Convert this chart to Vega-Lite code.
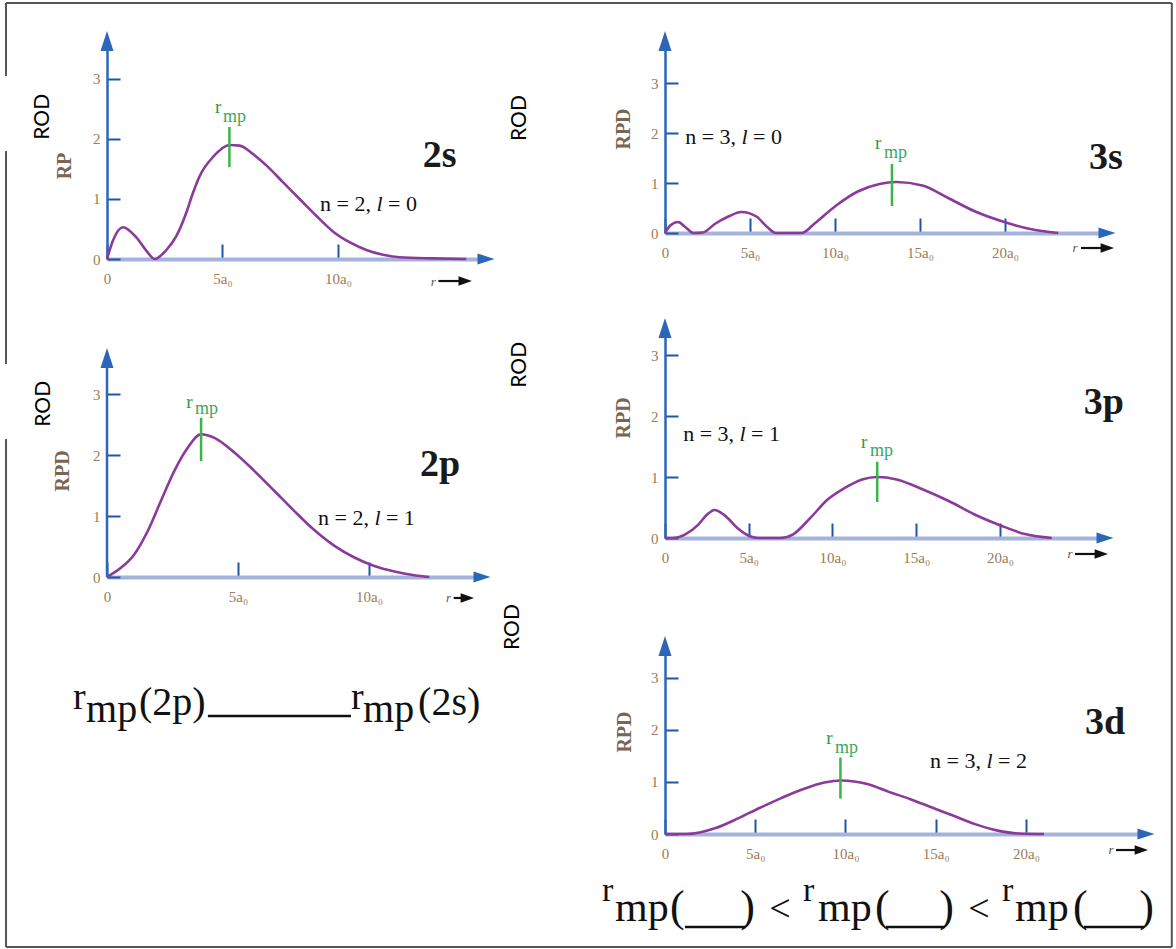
{
"$schema":"https://vega.github.io/schema/vega-lite/v6.json",
"background":"white",
"padding":{"left":5,"top":1,"right":0,"bottom":0},
"config":{
 "view":{"stroke":null},
 "axis":{"grid":false,"labelFont":"Liberation Serif","labelFontSize":15,"labelColor":"#9c7b55","tickColor":"#1d56a8","tickWidth":2,"labelFlush":false,"labelOverlap":false},
 "axisX":{"domainColor":"#a3b3dc","domainWidth":4,"tickSize":-15,"labelPadding":27,"labelAngle":0},
 "axisY":{"domainColor":"#2c66b8","domainWidth":2.5,"tickSize":-13,"labelPadding":20,"format":"d"}
},
"columns":2,
"spacing":{"row":69,"column":179},
"align":"each",
"bounds":"flush",
"concat":[
{"width":379,"height":218,
 "data":{"values":[{"r":0,"rpd":0},{"r":0.25,"rpd":0.3},{"r":0.69,"rpd":0.53},{"r":1.27,"rpd":0.36},{"r":1.7,"rpd":0.14},{"r":2.06,"rpd":0},{"r":2.57,"rpd":0.15},{"r":3.0,"rpd":0.38},{"r":3.44,"rpd":0.78},{"r":3.72,"rpd":1.1},{"r":4.01,"rpd":1.38},{"r":4.59,"rpd":1.7},{"r":5.31,"rpd":1.9},{"r":5.74,"rpd":1.89},{"r":6.32,"rpd":1.75},{"r":6.9,"rpd":1.56},{"r":7.62,"rpd":1.28},{"r":8.34,"rpd":1.0},{"r":9.06,"rpd":0.72},{"r":9.78,"rpd":0.46},{"r":10.5,"rpd":0.28},{"r":11.23,"rpd":0.15},{"r":11.95,"rpd":0.07},{"r":12.67,"rpd":0.03},{"r":14.1,"rpd":0.01},{"r":15.56,"rpd":0}]},
 "layer":[
  {"mark":{"type":"line","color":"#8b3a9b","strokeWidth":2.6,"interpolate":"monotone"},
   "encoding":{"x":{"field":"r","type":"quantitative","scale":{"domain":[0,16.41],"nice":false,"zero":false},"axis":{"values":[0,5,10],"labelExpr":"datum.value == 0 ? '0' : datum.value + 'a₀'","title":null}},
    "y":{"field":"rpd","type":"quantitative","scale":{"domain":[0,3.633],"nice":false},"axis":{"values":[0,1,2,3],"title":null,"format":"d"}}}},
  {"data":{"values":[{}]},"mark":{"type":"rule","color":"#3ab54a","strokeWidth":2.5},"encoding":{"x":{"datum":5.3},"y":{"datum":1.53},"y2":{"datum":2.2}}},
  {"data":{"values":[{}]},"mark":{"type":"text","text":"r","font":"Liberation Serif","fontSize":19,"color":"#2f9a3c","align":"left","baseline":"alphabetic"},"encoding":{"x":{"datum":4.68},"y":{"datum":2.43}}},
  {"data":{"values":[{}]},"mark":{"type":"text","text":"mp","font":"Liberation Serif","fontSize":18,"color":"#3aa860","align":"left","baseline":"alphabetic"},"encoding":{"x":{"datum":5.02},"y":{"datum":2.28}}},
  {"data":{"values":[{}]},"mark":{"type":"text","text":"2s","font":"Liberation Serif","fontSize":38,"fontWeight":"bold","color":"#1a1a1a","align":"center","baseline":"alphabetic"},"encoding":{"x":{"datum":14.4},"y":{"datum":1.53}}},
  {"data":{"values":[{}]},"mark":{"type":"text","text":"n = 2,","font":"Liberation Serif","fontSize":22,"color":"#111","align":"right","baseline":"alphabetic","dx":-8.5},"encoding":{"x":{"datum":11.8},"y":{"datum":0.8}}},
  {"data":{"values":[{}]},"mark":{"type":"text","text":"l","font":"Liberation Serif","fontSize":22,"fontStyle":"italic","color":"#111","align":"center","baseline":"alphabetic"},"encoding":{"x":{"datum":11.8},"y":{"datum":0.8}}},
  {"data":{"values":[{}]},"mark":{"type":"text","text":"= 0","font":"Liberation Serif","fontSize":22,"color":"#111","align":"left","baseline":"alphabetic","dx":8.5},"encoding":{"x":{"datum":11.8},"y":{"datum":0.8}}},
  {"data":{"values":[{}]},"mark":{"type":"text","text":"ROD","font":"Lato","fontSize":21,"color":"#000","angle":270,"align":"center","baseline":"middle"},"encoding":{"x":{"datum":-2.77},"y":{"datum":2.37}}},
  {"data":{"values":[{}]},"mark":{"type":"text","text":"RP","font":"Liberation Serif","fontSize":20,"fontWeight":"bold","color":"#7a6650","angle":270,"align":"center","baseline":"middle"},"encoding":{"x":{"datum":-1.82},"y":{"datum":1.55}}},
  {"data":{"values":[{}]},"mark":{"type":"text","text":"r","font":"Liberation Serif","fontSize":13,"fontStyle":"italic","color":"#555","align":"center","baseline":"alphabetic"},"encoding":{"x":{"datum":14.13},"y":{"datum":-0.45}}},
  {"data":{"values":[{}]},"mark":{"type":"rule","color":"#111","strokeWidth":2.2},"encoding":{"x":{"datum":14.35},"x2":{"datum":15.51},"y":{"datum":-0.367}}},
  {"data":{"values":[{}]},"mark":{"type":"point","shape":"M-1,-0.7L1,0L-1,0.7Z","filled":true,"color":"#111","size":180,"opacity":1},"encoding":{"x":{"datum":15.51},"y":{"datum":-0.367}}},
  {"data":{"values":[{}]},"mark":{"type":"point","shape":"M-0.65,1L0,-1L0.65,1Z","filled":true,"color":"#2c66b8","size":400,"opacity":1},"encoding":{"x":{"datum":0},"y":{"datum":3.633}}},
  {"data":{"values":[{}]},"mark":{"type":"point","shape":"M-1,-0.65L1,0L-1,0.65Z","filled":true,"color":"#2c66b8","size":289,"opacity":1},"encoding":{"x":{"datum":16.41},"y":{"datum":0}}},
  {"data":{"values":[{}]},"mark":{"type":"rule","color":"#555","strokeWidth":2},"encoding":{"x":{"datum":-4.372},"x2":{"datum":46.104},"y":{"datum":4.267}}},
  {"data":{"values":[{}]},"mark":{"type":"rule","color":"#555","strokeWidth":2},"encoding":{"x":{"datum":-4.372},"x2":{"datum":46.104},"y":{"datum":-11.467}}},
  {"data":{"values":[{}]},"mark":{"type":"rule","color":"#555","strokeWidth":2},"encoding":{"x":{"datum":46.104},"y":{"datum":4.267},"y2":{"datum":-11.467}}},
  {"data":{"values":[{}]},"mark":{"type":"rule","color":"#555","strokeWidth":2},"encoding":{"x":{"datum":-4.372},"y":{"datum":4.267},"y2":{"datum":3.05}}},
  {"data":{"values":[{}]},"mark":{"type":"rule","color":"#555","strokeWidth":2},"encoding":{"x":{"datum":-4.372},"y":{"datum":1.8},"y2":{"datum":-1.75}}},
  {"data":{"values":[{}]},"mark":{"type":"rule","color":"#555","strokeWidth":2},"encoding":{"x":{"datum":-4.372},"y":{"datum":-3.0},"y2":{"datum":-11.467}}}
 ]},
{"width":442,"height":192,
 "data":{"values":[{"r":0,"rpd":0},{"r":0.31,"rpd":0.15},{"r":0.77,"rpd":0.22},{"r":1.19,"rpd":0.12},{"r":1.7,"rpd":0},{"r":2.21,"rpd":0.01},{"r":2.97,"rpd":0.19},{"r":3.73,"rpd":0.33},{"r":4.5,"rpd":0.42},{"r":5.38,"rpd":0.33},{"r":6.01,"rpd":0.12},{"r":6.52,"rpd":0},{"r":8.04,"rpd":0},{"r":8.8,"rpd":0.19},{"r":10.07,"rpd":0.55},{"r":11.34,"rpd":0.83},{"r":12.61,"rpd":0.98},{"r":13.6,"rpd":1.02},{"r":15.14,"rpd":0.95},{"r":16.66,"rpd":0.7},{"r":18.18,"rpd":0.44},{"r":19.96,"rpd":0.22},{"r":21.48,"rpd":0.08},{"r":23.13,"rpd":0}]},
 "layer":[
  {"mark":{"type":"line","color":"#8b3a9b","strokeWidth":2.6,"interpolate":"monotone"},
   "encoding":{"x":{"field":"r","type":"quantitative","scale":{"domain":[0,26.0],"nice":false,"zero":false},"axis":{"values":[0,5,10,15,20],"labelExpr":"datum.value == 0 ? '0' : datum.value + 'a₀'","title":null}},
    "y":{"field":"rpd","type":"quantitative","scale":{"domain":[0,3.84],"nice":false},"axis":{"values":[0,1,2,3],"title":null,"format":"d"}}}},
  {"data":{"values":[{}]},"mark":{"type":"rule","color":"#3ab54a","strokeWidth":2.5},"encoding":{"x":{"datum":13.35},"y":{"datum":0.54},"y2":{"datum":1.38}}},
  {"data":{"values":[{}]},"mark":{"type":"text","text":"r","font":"Liberation Serif","fontSize":19,"color":"#2f9a3c","align":"left","baseline":"alphabetic"},"encoding":{"x":{"datum":12.35},"y":{"datum":1.68}}},
  {"data":{"values":[{}]},"mark":{"type":"text","text":"mp","font":"Liberation Serif","fontSize":18,"color":"#3aa860","align":"left","baseline":"alphabetic"},"encoding":{"x":{"datum":12.88},"y":{"datum":1.5}}},
  {"data":{"values":[{}]},"mark":{"type":"text","text":"3s","font":"Liberation Serif","fontSize":38,"fontWeight":"bold","color":"#1a1a1a","align":"center","baseline":"alphabetic"},"encoding":{"x":{"datum":25.94},"y":{"datum":1.28}}},
  {"data":{"values":[{}]},"mark":{"type":"text","text":"n = 3,","font":"Liberation Serif","fontSize":22,"color":"#111","align":"right","baseline":"alphabetic","dx":-8.5},"encoding":{"x":{"datum":4.68},"y":{"datum":1.78}}},
  {"data":{"values":[{}]},"mark":{"type":"text","text":"l","font":"Liberation Serif","fontSize":22,"fontStyle":"italic","color":"#111","align":"center","baseline":"alphabetic"},"encoding":{"x":{"datum":4.68},"y":{"datum":1.78}}},
  {"data":{"values":[{}]},"mark":{"type":"text","text":"= 0","font":"Liberation Serif","fontSize":22,"color":"#111","align":"left","baseline":"alphabetic","dx":8.5},"encoding":{"x":{"datum":4.68},"y":{"datum":1.78}}},
  {"data":{"values":[{}]},"mark":{"type":"text","text":"ROD","font":"Lato","fontSize":21,"color":"#000","angle":270,"align":"center","baseline":"middle"},"encoding":{"x":{"datum":-8.53},"y":{"datum":2.3}}},
  {"data":{"values":[{}]},"mark":{"type":"text","text":"RPD","font":"Liberation Serif","fontSize":20,"fontWeight":"bold","color":"#7a6650","angle":270,"align":"center","baseline":"middle"},"encoding":{"x":{"datum":-2.41},"y":{"datum":2.08}}},
  {"data":{"values":[{}]},"mark":{"type":"text","text":"r","font":"Liberation Serif","fontSize":13,"fontStyle":"italic","color":"#555","align":"center","baseline":"alphabetic"},"encoding":{"x":{"datum":24.12},"y":{"datum":-0.38}}},
  {"data":{"values":[{}]},"mark":{"type":"rule","color":"#111","strokeWidth":2.2},"encoding":{"x":{"datum":24.47},"x2":{"datum":26.02},"y":{"datum":-0.3}}},
  {"data":{"values":[{}]},"mark":{"type":"point","shape":"M-1,-0.7L1,0L-1,0.7Z","filled":true,"color":"#111","size":180,"opacity":1},"encoding":{"x":{"datum":26.02},"y":{"datum":-0.3}}},
  {"data":{"values":[{}]},"mark":{"type":"point","shape":"M-0.65,1L0,-1L0.65,1Z","filled":true,"color":"#2c66b8","size":400,"opacity":1},"encoding":{"x":{"datum":0},"y":{"datum":3.84}}},
  {"data":{"values":[{}]},"mark":{"type":"point","shape":"M-1,-0.65L1,0L-1,0.65Z","filled":true,"color":"#2c66b8","size":289,"opacity":1},"encoding":{"x":{"datum":26.0},"y":{"datum":0}}}
 ]},
{"width":375,"height":249,
 "data":{"values":[{"r":0,"rpd":0},{"r":0.53,"rpd":0.15},{"r":1.04,"rpd":0.37},{"r":1.55,"rpd":0.75},{"r":2.06,"rpd":1.25},{"r":2.57,"rpd":1.74},{"r":3.08,"rpd":2.12},{"r":3.59,"rpd":2.34},{"r":4.1,"rpd":2.28},{"r":4.86,"rpd":2.04},{"r":5.62,"rpd":1.74},{"r":6.39,"rpd":1.41},{"r":7.15,"rpd":1.08},{"r":7.91,"rpd":0.77},{"r":8.68,"rpd":0.51},{"r":9.44,"rpd":0.32},{"r":10.2,"rpd":0.18},{"r":10.97,"rpd":0.09},{"r":11.73,"rpd":0.03},{"r":12.3,"rpd":0}]},
 "layer":[
  {"mark":{"type":"line","color":"#8b3a9b","strokeWidth":2.6,"interpolate":"monotone"},
   "encoding":{"x":{"field":"r","type":"quantitative","scale":{"domain":[0,14.31],"nice":false,"zero":false},"axis":{"values":[0,5,10],"labelExpr":"datum.value == 0 ? '0' : datum.value + 'a₀'","title":null}},
    "y":{"field":"rpd","type":"quantitative","scale":{"domain":[0,4.082],"nice":false},"axis":{"values":[0,1,2,3],"title":null,"format":"d","domain":false}}}},
  {"data":{"values":[{}]},"mark":{"type":"rule","color":"#2c66b8","strokeWidth":2.5},"encoding":{"x":{"datum":0},"y":{"datum":0},"y2":{"datum":3.59}}},
  {"data":{"values":[{}]},"mark":{"type":"rule","color":"#3ab54a","strokeWidth":2.5},"encoding":{"x":{"datum":3.59},"y":{"datum":1.9},"y2":{"datum":2.61}}},
  {"data":{"values":[{}]},"mark":{"type":"text","text":"r","font":"Liberation Serif","fontSize":19,"color":"#2f9a3c","align":"left","baseline":"alphabetic"},"encoding":{"x":{"datum":3.02},"y":{"datum":2.77}}},
  {"data":{"values":[{}]},"mark":{"type":"text","text":"mp","font":"Liberation Serif","fontSize":18,"color":"#3aa860","align":"left","baseline":"alphabetic"},"encoding":{"x":{"datum":3.36},"y":{"datum":2.67}}},
  {"data":{"values":[{}]},"mark":{"type":"text","text":"2p","font":"Liberation Serif","fontSize":38,"fontWeight":"bold","color":"#1a1a1a","align":"center","baseline":"alphabetic"},"encoding":{"x":{"datum":12.71},"y":{"datum":1.66}}},
  {"data":{"values":[{}]},"mark":{"type":"text","text":"n = 2,","font":"Liberation Serif","fontSize":22,"color":"#111","align":"right","baseline":"alphabetic","dx":-8.5},"encoding":{"x":{"datum":10.32},"y":{"datum":0.85}}},
  {"data":{"values":[{}]},"mark":{"type":"text","text":"l","font":"Liberation Serif","fontSize":22,"fontStyle":"italic","color":"#111","align":"center","baseline":"alphabetic"},"encoding":{"x":{"datum":10.32},"y":{"datum":0.85}}},
  {"data":{"values":[{}]},"mark":{"type":"text","text":"= 1","font":"Liberation Serif","fontSize":22,"color":"#111","align":"left","baseline":"alphabetic","dx":8.5},"encoding":{"x":{"datum":10.32},"y":{"datum":0.85}}},
  {"data":{"values":[{}]},"mark":{"type":"text","text":"ROD","font":"Lato","fontSize":21,"color":"#000","angle":270,"align":"center","baseline":"middle"},"encoding":{"x":{"datum":-2.4},"y":{"datum":2.84}}},
  {"data":{"values":[{}]},"mark":{"type":"text","text":"RPD","font":"Liberation Serif","fontSize":20,"fontWeight":"bold","color":"#7a6650","angle":270,"align":"center","baseline":"middle"},"encoding":{"x":{"datum":-1.68},"y":{"datum":1.74}}},
  {"data":{"values":[{}]},"mark":{"type":"text","text":"r","font":"Liberation Serif","fontSize":13,"fontStyle":"italic","color":"#555","align":"center","baseline":"alphabetic"},"encoding":{"x":{"datum":13.03},"y":{"datum":-0.41}}},
  {"data":{"values":[{}]},"mark":{"type":"rule","color":"#111","strokeWidth":2.2},"encoding":{"x":{"datum":13.23},"x2":{"datum":13.75},"y":{"datum":-0.344}}},
  {"data":{"values":[{}]},"mark":{"type":"point","shape":"M-1,-0.7L1,0L-1,0.7Z","filled":true,"color":"#111","size":180,"opacity":1},"encoding":{"x":{"datum":13.75},"y":{"datum":-0.344}}},
  {"data":{"values":[{}]},"mark":{"type":"point","shape":"M-0.65,1L0,-1L0.65,1Z","filled":true,"color":"#2c66b8","size":400,"opacity":1},"encoding":{"x":{"datum":0},"y":{"datum":3.59}}},
  {"data":{"values":[{}]},"mark":{"type":"point","shape":"M-1,-0.65L1,0L-1,0.65Z","filled":true,"color":"#2c66b8","size":289,"opacity":1},"encoding":{"x":{"datum":14.31},"y":{"datum":0}}},
  {"data":{"values":[{}]},"mark":{"type":"text","text":"r","font":"Liberation Serif","fontSize":38,"color":"#111","align":"left","baseline":"alphabetic"},"encoding":{"x":{"datum":-1.3},"y":{"datum":-2.16}}},
  {"data":{"values":[{}]},"mark":{"type":"text","text":"mp","font":"Liberation Serif","fontSize":40,"color":"#111","align":"left","baseline":"alphabetic"},"encoding":{"x":{"datum":-0.8},"y":{"datum":-2.38}}},
  {"data":{"values":[{}]},"mark":{"type":"text","text":"(2p)","font":"Liberation Serif","fontSize":40,"color":"#111","align":"left","baseline":"alphabetic"},"encoding":{"x":{"datum":1.22},"y":{"datum":-2.26}}},
  {"data":{"values":[{}]},"mark":{"type":"rule","color":"#111","strokeWidth":2.5},"encoding":{"x":{"datum":3.85},"x2":{"datum":9.31},"y":{"datum":-2.28}}},
  {"data":{"values":[{}]},"mark":{"type":"text","text":"r","font":"Liberation Serif","fontSize":38,"color":"#111","align":"left","baseline":"alphabetic"},"encoding":{"x":{"datum":9.31},"y":{"datum":-2.16}}},
  {"data":{"values":[{}]},"mark":{"type":"text","text":"mp","font":"Liberation Serif","fontSize":40,"color":"#111","align":"left","baseline":"alphabetic"},"encoding":{"x":{"datum":9.77},"y":{"datum":-2.38}}},
  {"data":{"values":[{}]},"mark":{"type":"text","text":"(2s)","font":"Liberation Serif","fontSize":40,"color":"#111","align":"left","baseline":"alphabetic"},"encoding":{"x":{"datum":11.87},"y":{"datum":-2.26}}}
 ]},
{"width":440,"height":210,
 "data":{"values":[{"r":0,"rpd":0},{"r":0.44,"rpd":0},{"r":1.21,"rpd":0.06},{"r":1.99,"rpd":0.22},{"r":2.5,"rpd":0.38},{"r":2.95,"rpd":0.46},{"r":3.53,"rpd":0.38},{"r":4.3,"rpd":0.17},{"r":5.07,"rpd":0.03},{"r":5.59,"rpd":0},{"r":6.88,"rpd":0},{"r":7.65,"rpd":0.06},{"r":8.68,"rpd":0.33},{"r":9.71,"rpd":0.63},{"r":10.73,"rpd":0.82},{"r":11.77,"rpd":0.96},{"r":12.67,"rpd":1.0},{"r":13.83,"rpd":0.96},{"r":15.37,"rpd":0.8},{"r":16.91,"rpd":0.61},{"r":18.45,"rpd":0.39},{"r":20.0,"rpd":0.21},{"r":21.55,"rpd":0.06},{"r":23.09,"rpd":0}]},
 "layer":[
  {"mark":{"type":"line","color":"#8b3a9b","strokeWidth":2.6,"interpolate":"monotone"},
   "encoding":{"x":{"field":"r","type":"quantitative","scale":{"domain":[0,26.27],"nice":false,"zero":false},"axis":{"values":[0,5,10,15,20],"labelExpr":"datum.value == 0 ? '0' : datum.value + 'a₀'","title":null}},
    "y":{"field":"rpd","type":"quantitative","scale":{"domain":[0,3.443],"nice":false},"axis":{"values":[0,1,2,3],"title":null,"format":"d"}}}},
  {"data":{"values":[{}]},"mark":{"type":"rule","color":"#3ab54a","strokeWidth":2.5},"encoding":{"x":{"datum":12.67},"y":{"datum":0.59},"y2":{"datum":1.25}}},
  {"data":{"values":[{}]},"mark":{"type":"text","text":"r","font":"Liberation Serif","fontSize":19,"color":"#2f9a3c","align":"left","baseline":"alphabetic"},"encoding":{"x":{"datum":11.7},"y":{"datum":1.48}}},
  {"data":{"values":[{}]},"mark":{"type":"text","text":"mp","font":"Liberation Serif","fontSize":18,"color":"#3aa860","align":"left","baseline":"alphabetic"},"encoding":{"x":{"datum":12.24},"y":{"datum":1.34}}},
  {"data":{"values":[{}]},"mark":{"type":"text","text":"3p","font":"Liberation Serif","fontSize":38,"fontWeight":"bold","color":"#1a1a1a","align":"center","baseline":"alphabetic"},"encoding":{"x":{"datum":26.2},"y":{"datum":2.03}}},
  {"data":{"values":[{}]},"mark":{"type":"text","text":"n = 3,","font":"Liberation Serif","fontSize":22,"color":"#111","align":"right","baseline":"alphabetic","dx":-8.5},"encoding":{"x":{"datum":4.63},"y":{"datum":1.59}}},
  {"data":{"values":[{}]},"mark":{"type":"text","text":"l","font":"Liberation Serif","fontSize":22,"fontStyle":"italic","color":"#111","align":"center","baseline":"alphabetic"},"encoding":{"x":{"datum":4.63},"y":{"datum":1.59}}},
  {"data":{"values":[{}]},"mark":{"type":"text","text":"= 1","font":"Liberation Serif","fontSize":22,"color":"#111","align":"left","baseline":"alphabetic","dx":8.5},"encoding":{"x":{"datum":4.63},"y":{"datum":1.59}}},
  {"data":{"values":[{}]},"mark":{"type":"text","text":"ROD","font":"Lato","fontSize":21,"color":"#000","angle":270,"align":"center","baseline":"middle"},"encoding":{"x":{"datum":-8.66},"y":{"datum":2.84}}},
  {"data":{"values":[{}]},"mark":{"type":"text","text":"RPD","font":"Liberation Serif","fontSize":20,"fontWeight":"bold","color":"#7a6650","angle":270,"align":"center","baseline":"middle"},"encoding":{"x":{"datum":-2.45},"y":{"datum":1.97}}},
  {"data":{"values":[{}]},"mark":{"type":"text","text":"r","font":"Liberation Serif","fontSize":13,"fontStyle":"italic","color":"#555","align":"center","baseline":"alphabetic"},"encoding":{"x":{"datum":24.18},"y":{"datum":-0.33}}},
  {"data":{"values":[{}]},"mark":{"type":"rule","color":"#111","strokeWidth":2.2},"encoding":{"x":{"datum":24.48},"x2":{"datum":26.05},"y":{"datum":-0.262}}},
  {"data":{"values":[{}]},"mark":{"type":"point","shape":"M-1,-0.7L1,0L-1,0.7Z","filled":true,"color":"#111","size":180,"opacity":1},"encoding":{"x":{"datum":26.05},"y":{"datum":-0.262}}},
  {"data":{"values":[{}]},"mark":{"type":"point","shape":"M-0.65,1L0,-1L0.65,1Z","filled":true,"color":"#2c66b8","size":400,"opacity":1},"encoding":{"x":{"datum":0},"y":{"datum":3.443}}},
  {"data":{"values":[{}]},"mark":{"type":"point","shape":"M-1,-0.65L1,0L-1,0.65Z","filled":true,"color":"#2c66b8","size":289,"opacity":1},"encoding":{"x":{"datum":26.27},"y":{"datum":0}}}
 ]},
{"width":300,"height":10,"data":{"values":[]},"mark":"point"},
{"width":481,"height":188,
 "data":{"values":[{"r":0,"rpd":0},{"r":1.18,"rpd":0},{"r":2.85,"rpd":0.12},{"r":4.05,"rpd":0.3},{"r":5.24,"rpd":0.5},{"r":6.44,"rpd":0.69},{"r":7.63,"rpd":0.86},{"r":8.83,"rpd":0.99},{"r":9.78,"rpd":1.03},{"r":11.21,"rpd":0.96},{"r":12.4,"rpd":0.81},{"r":13.6,"rpd":0.67},{"r":14.79,"rpd":0.51},{"r":15.99,"rpd":0.35},{"r":17.18,"rpd":0.19},{"r":18.38,"rpd":0.07},{"r":19.57,"rpd":0.01},{"r":21.0,"rpd":0}]},
 "layer":[
  {"mark":{"type":"line","color":"#8b3a9b","strokeWidth":2.6,"interpolate":"monotone"},
   "encoding":{"x":{"field":"r","type":"quantitative","scale":{"domain":[0,26.65],"nice":false,"zero":false},"axis":{"values":[0,5,10,15,20],"labelExpr":"datum.value == 0 ? '0' : datum.value + 'a₀'","title":null}},
    "y":{"field":"rpd","type":"quantitative","scale":{"domain":[0,3.615],"nice":false},"axis":{"values":[0,1,2,3],"title":null,"format":"d"}}}},
  {"data":{"values":[{}]},"mark":{"type":"rule","color":"#3ab54a","strokeWidth":2.5},"encoding":{"x":{"datum":9.72},"y":{"datum":0.68},"y2":{"datum":1.47}}},
  {"data":{"values":[{}]},"mark":{"type":"text","text":"r","font":"Liberation Serif","fontSize":19,"color":"#2f9a3c","align":"left","baseline":"alphabetic"},"encoding":{"x":{"datum":8.94},"y":{"datum":1.73}}},
  {"data":{"values":[{}]},"mark":{"type":"text","text":"mp","font":"Liberation Serif","fontSize":18,"color":"#3aa860","align":"left","baseline":"alphabetic"},"encoding":{"x":{"datum":9.42},"y":{"datum":1.56}}},
  {"data":{"values":[{}]},"mark":{"type":"text","text":"3d","font":"Liberation Serif","fontSize":38,"fontWeight":"bold","color":"#1a1a1a","align":"center","baseline":"alphabetic"},"encoding":{"x":{"datum":24.38},"y":{"datum":1.92}}},
  {"data":{"values":[{}]},"mark":{"type":"text","text":"n = 3,","font":"Liberation Serif","fontSize":22,"color":"#111","align":"right","baseline":"alphabetic","dx":-8.5},"encoding":{"x":{"datum":17.98},"y":{"datum":1.27}}},
  {"data":{"values":[{}]},"mark":{"type":"text","text":"l","font":"Liberation Serif","fontSize":22,"fontStyle":"italic","color":"#111","align":"center","baseline":"alphabetic"},"encoding":{"x":{"datum":17.98},"y":{"datum":1.27}}},
  {"data":{"values":[{}]},"mark":{"type":"text","text":"= 2","font":"Liberation Serif","fontSize":22,"color":"#111","align":"left","baseline":"alphabetic","dx":8.5},"encoding":{"x":{"datum":17.98},"y":{"datum":1.27}}},
  {"data":{"values":[{}]},"mark":{"type":"text","text":"ROD","font":"Lato","fontSize":21,"color":"#000","angle":270,"align":"center","baseline":"middle"},"encoding":{"x":{"datum":-8.42},"y":{"datum":3.98}}},
  {"data":{"values":[{}]},"mark":{"type":"text","text":"RPD","font":"Liberation Serif","fontSize":20,"fontWeight":"bold","color":"#7a6650","angle":270,"align":"center","baseline":"middle"},"encoding":{"x":{"datum":-2.22},"y":{"datum":1.96}}},
  {"data":{"values":[{}]},"mark":{"type":"text","text":"r","font":"Liberation Serif","fontSize":13,"fontStyle":"italic","color":"#555","align":"center","baseline":"alphabetic"},"encoding":{"x":{"datum":24.71},"y":{"datum":-0.385}}},
  {"data":{"values":[{}]},"mark":{"type":"rule","color":"#111","strokeWidth":2.2},"encoding":{"x":{"datum":24.99},"x2":{"datum":26.39},"y":{"datum":-0.308}}},
  {"data":{"values":[{}]},"mark":{"type":"point","shape":"M-1,-0.7L1,0L-1,0.7Z","filled":true,"color":"#111","size":180,"opacity":1},"encoding":{"x":{"datum":26.39},"y":{"datum":-0.308}}},
  {"data":{"values":[{}]},"mark":{"type":"point","shape":"M-0.65,1L0,-1L0.65,1Z","filled":true,"color":"#2c66b8","size":400,"opacity":1},"encoding":{"x":{"datum":0},"y":{"datum":3.615}}},
  {"data":{"values":[{}]},"mark":{"type":"point","shape":"M-1,-0.65L1,0L-1,0.65Z","filled":true,"color":"#2c66b8","size":289,"opacity":1},"encoding":{"x":{"datum":26.65},"y":{"datum":0}}},
  {"data":{"values":[{}]},"mark":{"type":"text","text":"r","font":"Liberation Serif","fontSize":34,"color":"#111","align":"left","baseline":"alphabetic"},"encoding":{"x":{"datum":-3.49},"y":{"datum":-1.288}}},
  {"data":{"values":[{}]},"mark":{"type":"text","text":"mp","font":"Liberation Serif","fontSize":42,"color":"#111","align":"left","baseline":"alphabetic"},"encoding":{"x":{"datum":-2.77},"y":{"datum":-1.673}}},
  {"data":{"values":[{}]},"mark":{"type":"text","text":"(","font":"Liberation Serif","fontSize":44,"color":"#111","align":"left","baseline":"alphabetic"},"encoding":{"x":{"datum":0.277},"y":{"datum":-1.673}}},
  {"data":{"values":[{}]},"mark":{"type":"rule","color":"#111","strokeWidth":2.5},"encoding":{"x":{"datum":1.108},"x2":{"datum":4.488},"y":{"datum":-1.788}}},
  {"data":{"values":[{}]},"mark":{"type":"text","text":")","font":"Liberation Serif","fontSize":44,"color":"#111","align":"right","baseline":"alphabetic"},"encoding":{"x":{"datum":4.986},"y":{"datum":-1.673}}},
  {"data":{"values":[{}]},"mark":{"type":"text","text":"<","font":"Liberation Serif","fontSize":38,"color":"#111","align":"center","baseline":"alphabetic"},"encoding":{"x":{"datum":6.371},"y":{"datum":-1.673}}},
  {"data":{"values":[{}]},"mark":{"type":"text","text":"r","font":"Liberation Serif","fontSize":34,"color":"#111","align":"left","baseline":"alphabetic"},"encoding":{"x":{"datum":7.645},"y":{"datum":-1.288}}},
  {"data":{"values":[{}]},"mark":{"type":"text","text":"mp","font":"Liberation Serif","fontSize":42,"color":"#111","align":"left","baseline":"alphabetic"},"encoding":{"x":{"datum":8.476},"y":{"datum":-1.673}}},
  {"data":{"values":[{}]},"mark":{"type":"text","text":"(","font":"Liberation Serif","fontSize":44,"color":"#111","align":"left","baseline":"alphabetic"},"encoding":{"x":{"datum":11.634},"y":{"datum":-1.673}}},
  {"data":{"values":[{}]},"mark":{"type":"rule","color":"#111","strokeWidth":2.5},"encoding":{"x":{"datum":12.244},"x2":{"datum":15.512},"y":{"datum":-1.788}}},
  {"data":{"values":[{}]},"mark":{"type":"text","text":")","font":"Liberation Serif","fontSize":44,"color":"#111","align":"right","baseline":"alphabetic"},"encoding":{"x":{"datum":16.011},"y":{"datum":-1.673}}},
  {"data":{"values":[{}]},"mark":{"type":"text","text":"<","font":"Liberation Serif","fontSize":38,"color":"#111","align":"center","baseline":"alphabetic"},"encoding":{"x":{"datum":17.396},"y":{"datum":-1.673}}},
  {"data":{"values":[{}]},"mark":{"type":"text","text":"r","font":"Liberation Serif","fontSize":34,"color":"#111","align":"left","baseline":"alphabetic"},"encoding":{"x":{"datum":18.67},"y":{"datum":-1.288}}},
  {"data":{"values":[{}]},"mark":{"type":"text","text":"mp","font":"Liberation Serif","fontSize":42,"color":"#111","align":"left","baseline":"alphabetic"},"encoding":{"x":{"datum":19.391},"y":{"datum":-1.673}}},
  {"data":{"values":[{}]},"mark":{"type":"text","text":"(","font":"Liberation Serif","fontSize":44,"color":"#111","align":"left","baseline":"alphabetic"},"encoding":{"x":{"datum":22.604},"y":{"datum":-1.673}}},
  {"data":{"values":[{}]},"mark":{"type":"rule","color":"#111","strokeWidth":2.5},"encoding":{"x":{"datum":23.213},"x2":{"datum":26.537},"y":{"datum":-1.788}}},
  {"data":{"values":[{}]},"mark":{"type":"text","text":")","font":"Liberation Serif","fontSize":44,"color":"#111","align":"right","baseline":"alphabetic"},"encoding":{"x":{"datum":27.091},"y":{"datum":-1.673}}}
 ]}
]
}
